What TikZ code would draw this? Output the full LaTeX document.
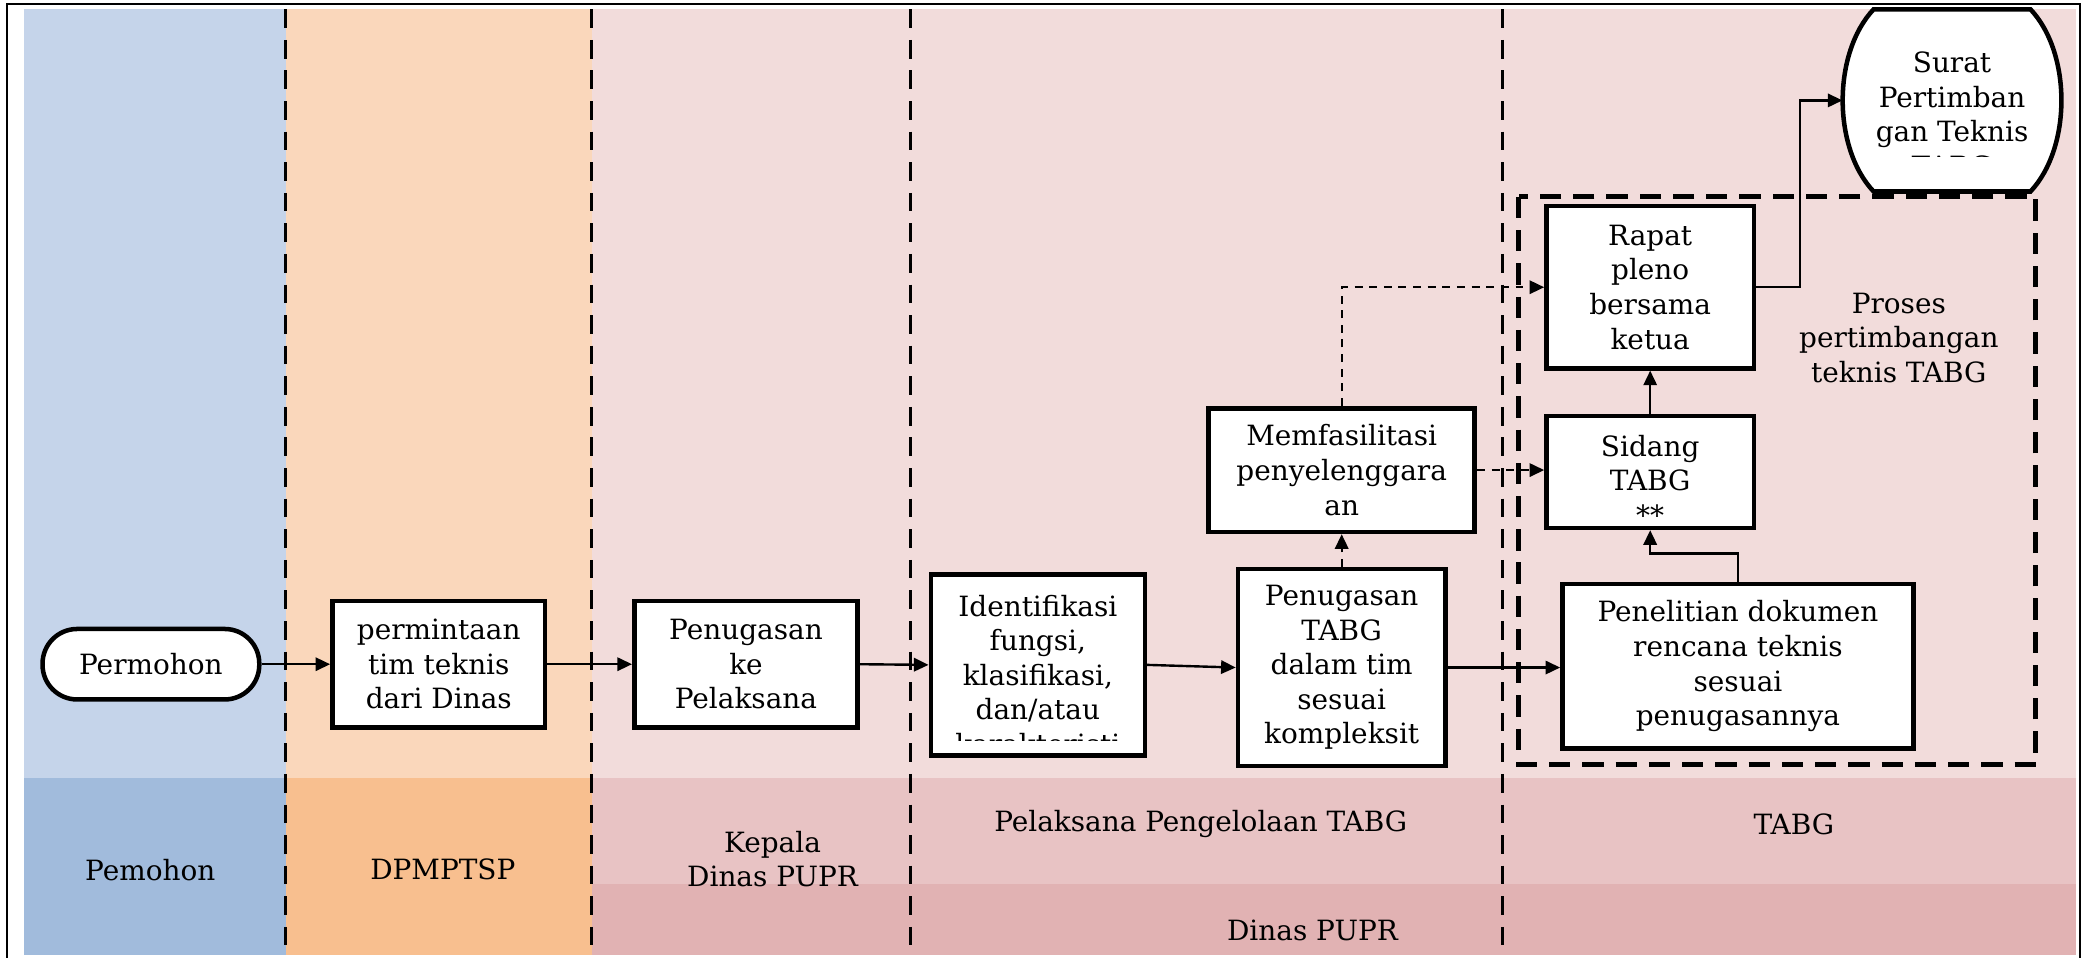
\documentclass[tikz,border=0pt]{standalone}
\usepackage{fontspec}
\setmainfont{DejaVu Serif}
\usetikzlibrary{arrows.meta}
\definecolor{blueA}{HTML}{C5D4EA}
\definecolor{blueB}{HTML}{A1BBDC}
\definecolor{orA}{HTML}{FAD7BB}
\definecolor{orB}{HTML}{F8BF8F}
\definecolor{pkA}{HTML}{F2DCDB}
\definecolor{pkB}{HTML}{E8C3C4}
\definecolor{pkC}{HTML}{E1B2B3}
\begin{document}
\begin{tikzpicture}[x=0.5pt,y=-0.5pt,
  every node/.style={font=\fontsize{10.5}{13}\selectfont, align=center, inner sep=0pt},
  box/.style={draw, line width=1.7pt, fill=white, rectangle},
  txt/.style={inner sep=0pt},
  flow/.style={line width=0.9pt, -{Triangle[length=5.5pt,width=5pt]}},
  dflow/.style={flow, dash pattern=on 3pt off 2.5pt},
  lane/.style={line width=1.2pt, dash pattern=on 7pt off 4.5pt},
  groupbox/.style={line width=1.8pt, dash pattern=on 8pt off 4.5pt}]

\useasboundingbox (0,0) rectangle (1568,720);

% lanes background
\fill[blueA] (18,7) rectangle (215,585);
\fill[blueB] (18,585) rectangle (215,718);
\fill[orA] (215,7) rectangle (445,585);
\fill[orB] (215,585) rectangle (445,718);
\fill[pkA] (445,7) rectangle (1561,585);
\fill[pkB] (445,585) rectangle (1561,665);
\fill[pkC] (445,665) rectangle (1561,718);

% outer frame
\draw[line width=0.8pt] (5,3) rectangle (1564,726);

% lane separators
\foreach \xx in {215,445,685,1130} {\draw[lane] (\xx,7) -- (\xx,718);}

% Surat terminal
\node[minimum width=82pt, minimum height=68.5pt] (surat) at (1468,75.5) {};
\draw[line width=1.7pt, fill=white] (1409,7) -- (1527,7)
  .. controls (1558,40) and (1558,111) .. (1527,144) -- (1409,144)
  .. controls (1378,111) and (1378,40) .. (1409,7) -- cycle;
\begin{scope}
  \clip (1395,10) rectangle (1540,118);
  \node[txt] (surattxt) at (1468,86) {Surat\\Pertimban\\gan Teknis\\TABG};
\end{scope}

% group box
\draw[groupbox] (1142,148) rectangle (1531,575);
\node[txt] (proses) at (1428,254) {Proses\\pertimbangan\\teknis TABG};

% process nodes
\node[box, rounded corners=13pt, minimum width=81.5pt, minimum height=26.5pt] (pemohon) at (113.5,499.5) {Permohon};
\node[box, minimum width=80pt, minimum height=47.5pt] (minta) at (330,499.5) {permintaan\\tim teknis\\dari Dinas};
\node[box, minimum width=84pt, minimum height=47.5pt] (pelaksana) at (561,499.5) {Penugasan\\ke\\Pelaksana};
\node[box, minimum width=80.5pt, minimum height=68pt] (ident) at (780.5,500) {};
\begin{scope}
  \clip (704,436) rectangle (857,557);
  \node[txt] (identtxt) at (780.5,507.5) {Identifikasi\\fungsi,\\klasifikasi,\\dan/atau\\karakteristi};
\end{scope}
\node[box, minimum width=78pt, minimum height=74pt] (tabg) at (1009,502) {Penugasan\\TABG\\dalam tim\\sesuai\\kompleksit};
\node[box, minimum width=100pt, minimum height=46.5pt] (fasil) at (1009,353.5) {Memfasilitasi\\penyelenggara\\an};
\node[box, minimum width=78pt, minimum height=42pt] (sidang) at (1241,355) {};
\node[txt] (sidangtxt) at (1241,361) {Sidang\\TABG\\**};
\node[box, minimum width=78pt, minimum height=61pt] (rapat) at (1241,216) {Rapat\\pleno\\bersama\\ketua};
\node[box, minimum width=132pt, minimum height=62pt] (teliti) at (1307,501) {Penelitian dokumen\\rencana teknis\\sesuai\\penugasannya};

% connectors
\draw[flow] (pemohon.east) -- (minta.west);
\draw[flow] (minta.east) -- (pelaksana.west);
\draw[flow] (pelaksana.east) -- (ident.west);
\draw[flow] (ident.east) -- (tabg.west);
\draw[flow] (tabg.east) -- (teliti.west |- tabg.east);
\draw[dflow] (tabg.north) -- (fasil.south);
\draw[dflow] (fasil.east) -- (fasil.east -| sidang.west);
\draw[dflow] (fasil.north) |- (rapat.west);
\draw[flow] (sidang.north) -- (rapat.south);
\draw[flow] (teliti.north) -- ++(0,-21) -| (sidang.south);
\draw[flow] (rapat.east) -- ++(33,0) |- (surat.west);

% lane labels
\node[txt] (l1) at (113,654) {Pemohon};
\node[txt] (l2) at (333,654) {DPMPTSP};
\node[txt] (l3) at (581,646) {Kepala\\Dinas PUPR};
\node[txt] (l4) at (903,620) {Pelaksana Pengelolaan TABG};
\node[txt] (l5) at (1349,620) {TABG};
\node[txt] (l6) at (987,700) {Dinas PUPR};
\end{tikzpicture}
\end{document}
